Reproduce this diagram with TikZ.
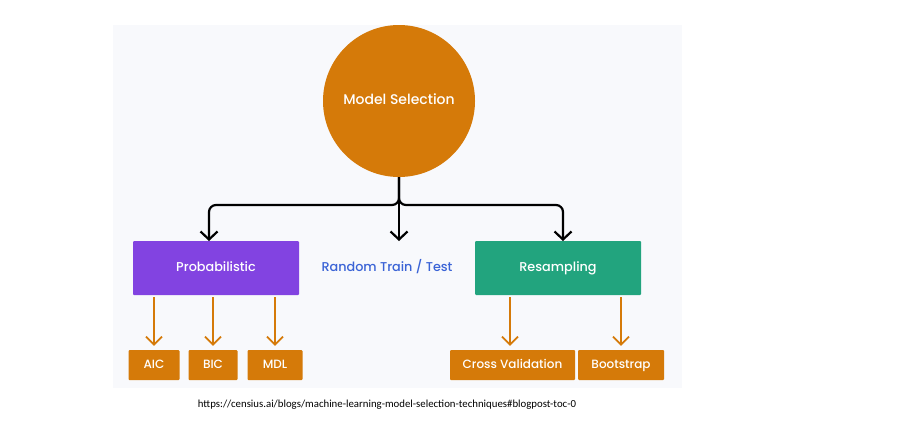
\documentclass[tikz,border=0pt]{standalone}
\usepackage{fontspec}
\IfFontExistsTF{Poppins Medium}{\setmainfont{Poppins Medium}}{\setmainfont{Poppins}[FakeBold=0.8]}
\newfontfamily\urlfont{Carlito}
\usetikzlibrary{arrows.meta}
\definecolor{panelbg}{HTML}{F8F9FC}
\definecolor{orn}{HTML}{D57A09}
\definecolor{purp}{HTML}{8243E1}
\definecolor{grn}{HTML}{22A47E}
\definecolor{blu}{HTML}{3A63D6}
\tikzset{
  box/.style={draw=none, rectangle, rounded corners=1pt, text=white, inner sep=0pt, text height=0.7em, text depth=0pt, font=\fontsize{12.8}{15}\selectfont},
  smallbox/.style={box, fill=orn, minimum height=30, font=\fontsize{12}{14}\selectfont},
  blackarrow/.style={draw=black, line width=2.2pt, rounded corners=7pt, -{Straight Barb[length=8pt,width=17pt,line width=2.2pt]}},
  orangearrow/.style={draw=orn, line width=1.8pt, -{Straight Barb[length=8pt,width=16pt,line width=1.8pt]}, shorten <=2pt, shorten >=4pt}
}
\begin{document}
\begin{tikzpicture}[x=1pt,y=-1pt]
\useasboundingbox (0,0) rectangle (901,421);
\fill[panelbg] (113,25) rectangle (682,388);
\node[circle, fill=orn, minimum size=152pt, inner sep=0pt, text=white, text height=0.7em, text depth=0pt, font=\fontsize{14}{16}\selectfont] (ms) at (399,101) {Model Selection};
\node[box, fill=purp, minimum width=166pt, minimum height=54pt] (prob) at (216,268) {Probabilistic};
\node[box, fill=grn, minimum width=166pt, minimum height=54pt] (res) at (558,268) {Resampling};
\node[text=blu, inner sep=0pt, text height=0.7em, text depth=0pt, font=\fontsize{12.8}{15}\selectfont] (rtt) at (387,268) {Random Train / Test};
\coordinate (pa) at (209,241);
\coordinate (ra) at (563,241);
\coordinate (ma) at (399,241);
\coordinate (jn) at (399,205);
\draw[blackarrow] (ms.south) -- (jn) -| (pa);
\draw[blackarrow] (ms.south) -- (jn) -| (ra);
\draw[blackarrow] (ms.south) -- (ma);
\node[smallbox, minimum width=51pt] (aic) at (154,365) {AIC};
\node[smallbox, minimum width=49pt] (bic) at (213,365) {BIC};
\node[smallbox, minimum width=55pt] (mdl) at (275,365) {MDL};
\node[smallbox, minimum width=125pt] (cv) at (512.5,365) {Cross Validation};
\node[smallbox, minimum width=86pt] (bs) at (621,365) {Bootstrap};
\draw[orangearrow] (aic.north |- prob.south) -- (aic.north);
\draw[orangearrow] (bic.north |- prob.south) -- (bic.north);
\draw[orangearrow] (mdl.north |- prob.south) -- (mdl.north);
\draw[orangearrow] ([xshift=-2.5pt]cv.north |- res.south) -- ([xshift=-2.5pt]cv.north);
\draw[orangearrow] (bs.north |- res.south) -- (bs.north);
\node[inner sep=0pt, font=\urlfont\fontsize{10.8}{13}\selectfont] (url) at (387,405) {https://censius.ai/blogs/machine-learning-model-selection-techniques\#blogpost-toc-0};
\end{tikzpicture}
\end{document}
